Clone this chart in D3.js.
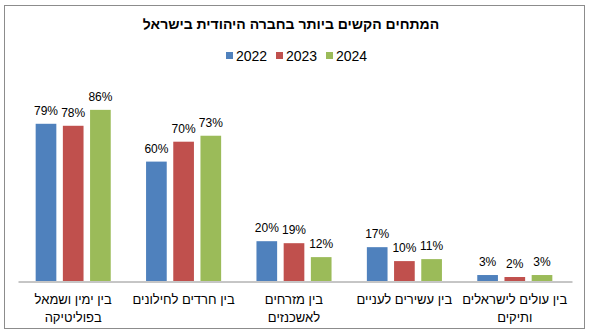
<!DOCTYPE html>
<html>
<head>
<meta charset="utf-8">
<script src="https://cdn.jsdelivr.net/npm/d3@7"></script>
<style>
  html, body { margin: 0; padding: 0; background: #fff; }
  svg { display: block; }
  text { font-family: "Liberation Sans", Arial, sans-serif; }
</style>
</head>
<body>
<svg id="chart" width="591" height="335"></svg>
<script>
// Chart data
const title = "המתחים הקשים ביותר בחברה היהודית בישראל";
const categories = [
  ["בין ימין ושמאל", "בפוליטיקה"],
  ["בין חרדים לחילונים"],
  ["בין מזרחים", "לאשכנזים"],
  ["בין עשירים לעניים"],
  ["בין עולים לישראלים", "ותיקים"]
];
const years = ["2022", "2023", "2024"];
const values2022 = [79, 60, 20, 17, 3];
const values2023 = [78, 70, 19, 10, 2];
const values2024 = [86, 73, 12, 11, 3];
const colors = ["#4F81BD", "#C0504D", "#9BBB59"];

const seriesValues = [values2022, values2023, values2024];

const svg = d3.select("#chart");

// Outer frame
svg.append("rect")
  .attr("x", 4.5).attr("y", 5.5)
  .attr("width", 580).attr("height", 323)
  .attr("fill", "#fff")
  .attr("stroke", "#8c8c8c")
  .attr("stroke-width", 1);

// Title
svg.append("text")
  .attr("x", 291).attr("y", 29)
  .attr("text-anchor", "middle")
  .attr("font-weight", "bold")
  .attr("font-size", 14)
  .attr("fill", "#000")
  .text(title);

// Plot area
const plot = { left: 18, right: 570, top: 82, bottom: 281 };

const x0 = d3.scaleBand()
  .domain(d3.range(categories.length))
  .range([plot.left, plot.right])
  .paddingInner(0.32)
  .paddingOuter(0.16);

const x1 = d3.scaleBand()
  .domain(years)
  .range([0, x0.bandwidth()])
  .paddingInner(0.24);

const y = d3.scaleLinear().domain([0, 100]).range([plot.bottom, plot.top]);

const groups = svg.append("g").selectAll("g")
  .data(categories.map((c, i) => i))
  .join("g")
  .attr("transform", i => `translate(${x0(i)},0)`);

groups.selectAll("rect")
  .data(i => years.map((yr, k) => ({ yr, k, v: seriesValues[k][i] })))
  .join("rect")
  .attr("x", d => x1(d.yr))
  .attr("y", d => y(d.v))
  .attr("width", x1.bandwidth())
  .attr("height", d => y(0) - y(d.v))
  .attr("fill", d => colors[d.k]);

groups.selectAll("text.val")
  .data(i => years.map((yr, k) => ({ yr, k, v: seriesValues[k][i] })))
  .join("text")
  .attr("class", "val")
  .attr("x", d => x1(d.yr) + x1.bandwidth() / 2)
  .attr("y", d => y(d.v) - 9)
  .attr("text-anchor", "middle")
  .attr("font-size", 12)
  .attr("fill", "#000")
  .attr("direction", "ltr")
  .text(d => d.v + "%");

// Category axis line
const xAxis = d3.axisBottom(d3.scaleLinear().range([plot.left, plot.right + 2]))
  .ticks(0).tickSize(0).tickFormat("");
svg.append("g")
  .attr("transform", `translate(0,${plot.bottom + 0.5})`)
  .call(xAxis)
  .call(g => g.select(".domain").attr("stroke", "#8c8c8c"));

// Category labels
const catLabels = svg.append("g").selectAll("text")
  .data(categories)
  .join("text")
  .attr("x", (c, i) => x0(i) + x0.bandwidth() / 2)
  .attr("y", 304)
  .attr("text-anchor", "middle")
  .attr("font-size", 13)
  .attr("fill", "#000");
catLabels.selectAll("tspan")
  .data(c => c)
  .join("tspan")
  .attr("x", function() { return d3.select(this.parentNode).attr("x"); })
  .attr("dy", (d, j) => j === 0 ? 0 : 18)
  .text(d => d);

// Legend
const legend = svg.append("g").attr("transform", "translate(226,55)");
const legendX = [0, 50, 100];
years.forEach((yr, k) => {
  const g = legend.append("g").attr("transform", `translate(${legendX[k]},0)`);
  g.append("rect").attr("x", 0).attr("y", -3).attr("width", 7).attr("height", 7).attr("fill", colors[k]);
  g.append("text").attr("x", 10).attr("y", 5.5).attr("font-size", 14).attr("fill", "#000").text(yr);
});
</script>
</body>
</html>
